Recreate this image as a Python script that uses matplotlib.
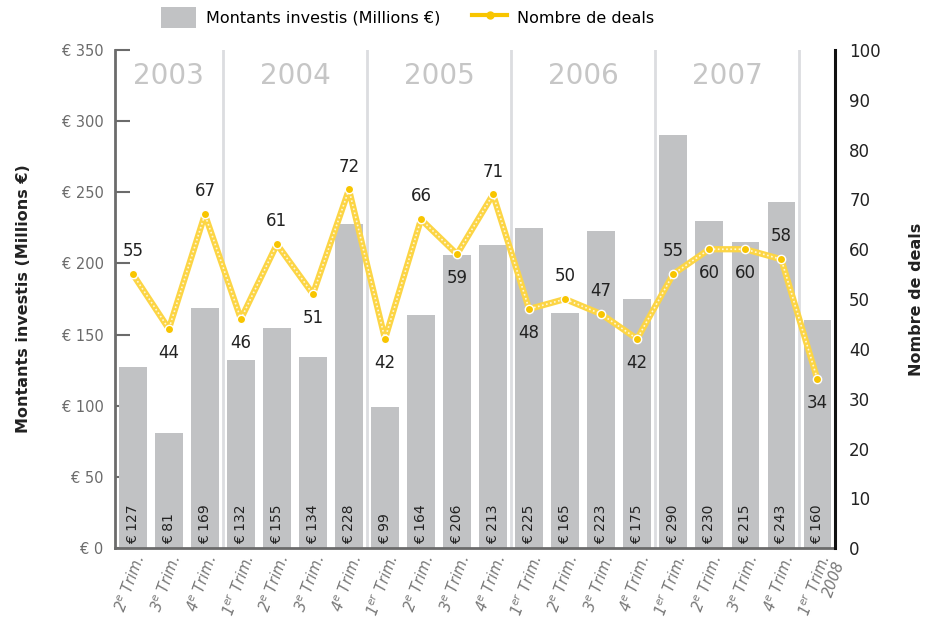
import matplotlib

matplotlib.use("Agg")
import matplotlib.pyplot as plt
import numpy as np
from matplotlib.lines import Line2D
from matplotlib.patches import Patch

quarters = ["2", "3", "4", "1", "2", "3", "4", "1", "2", "3", "4",
            "1", "2", "3", "4", "1", "2", "3", "4", "1"]
montants = [127, 81, 169, 132, 155, 134, 228, 99, 164, 206, 213,
            225, 165, 223, 175, 290, 230, 215, 243, 160]
deals = [55, 44, 67, 46, 61, 51, 72, 42, 66, 59, 71,
         48, 50, 47, 42, 55, 60, 60, 58, 34]
deal_above = [1, 0, 1, 0, 1, 0, 1, 0, 1, 0, 1, 0, 1, 1, 0, 1, 0, 0, 1, 0]
years = ["2003", "2004", "2005", "2006", "2007"]
year_bounds = [(-0.5, 2.5), (2.5, 6.5), (6.5, 10.5), (10.5, 14.5), (14.5, 18.5)]

GRAY = "#c1c2c4"
YELLOW = "#f8c500"
LINE_YELLOW = "#fcd545"

fig = plt.figure(figsize=(9.26, 6.25), dpi=100)
ax = fig.add_axes([0.124, 0.123, 0.778, 0.797])
ax2 = ax.twinx()

x = np.arange(len(montants))
ax.bar(x, montants, width=0.76, color=GRAY, zorder=2)
for xi, v in zip(x, montants):
    ax.text(xi, 3, f"€ {v}", rotation=90, ha="center", va="bottom",
            fontsize=10, color="#222222", zorder=3)

# year separators and labels
for lo, hi in year_bounds:
    ax.axvline(hi, color="#dcdde0", lw=2, zorder=1)
for (lo, hi), yr in zip(year_bounds, years):
    ax.text((lo + hi) / 2, 332, yr, ha="center", va="center",
            fontsize=20, color="#c6c6c6", zorder=1)

ax.set_xlim(-0.5, len(montants) - 0.5)
ax.set_ylim(0, 350)
ax.set_yticks(range(0, 351, 50))
ax.set_yticklabels([f"€ {v}" for v in range(0, 351, 50)])
ax.tick_params(axis="y", direction="in", length=11, width=1.5,
               colors="#6b6b6b", labelsize=10.5, pad=8)
ax.yaxis.get_major_ticks()[5].tick1line.set_color("#2a9fd8")

labels = []
for i, q in enumerate(quarters):
    sup = "er" if q == "1" else "e"
    lab = f"{q}$^{{{sup}}}$ Trim."
    if i == len(quarters) - 1:
        lab += "\n2008"
    labels.append(lab)
ax.set_xticks(x)
ax.set_xticklabels(labels, rotation=70, ha="right", rotation_mode="anchor",
                   fontsize=10.5, color="#777777", style="italic",
                   linespacing=0.95)
ax.tick_params(axis="x", length=0, pad=4)

ax.spines["top"].set_visible(False)
ax2.spines["top"].set_visible(False)
ax.spines["left"].set_color("#6b6b6b")
ax.spines["left"].set_linewidth(2)
ax.spines["bottom"].set_color("#6b6b6b")
ax.spines["bottom"].set_linewidth(2)
ax.spines["right"].set_visible(False)
ax2.spines["left"].set_visible(False)
ax2.spines["bottom"].set_visible(False)
ax2.spines["right"].set_color("#111111")
ax2.spines["right"].set_linewidth(2.2)

ax.set_ylabel("Montants investis (Millions €)", fontsize=11.5,
              fontweight="bold", color="#222222", labelpad=22)

# deals line on right axis
ax2.plot(x, deals, color=LINE_YELLOW, lw=4.5, zorder=4, solid_capstyle="round")
ax2.plot(x, deals, color="white", lw=1.2, ls=(0, (1, 1.5)), alpha=0.8, zorder=5)
ax2.plot(x, deals, ls="none", marker="o", ms=6, mfc=YELLOW, mec="white",
         mew=1, zorder=6)
for xi, v, up in zip(x, deals, deal_above):
    off = 2.8 if up else -3.0
    ax2.text(xi, v + off, str(v), ha="center", va="bottom" if up else "top",
             fontsize=12, color="#222222", zorder=7)
ax2.set_ylim(0, 100)
ax2.set_yticks(range(0, 101, 10))
ax2.tick_params(axis="y", length=0, labelsize=12, colors="#222222", pad=10)
ax2.set_ylabel("Nombre de deals", fontsize=11.5, fontweight="bold",
               color="#222222", labelpad=20)

handles = [
    Patch(facecolor=GRAY, edgecolor="none"),
    Line2D([], [], color=YELLOW, lw=3, marker="o", ms=5),
]
fig.legend(handles, ["Montants investis (Millions €)", "Nombre de deals"],
           loc="center", bbox_to_anchor=(0.44, 0.972), ncol=2, frameon=False,
           fontsize=11.5, handlelength=2.2, handleheight=1.6, columnspacing=2,
           handletextpad=0.6)

fig.savefig("out.png", dpi=100)
